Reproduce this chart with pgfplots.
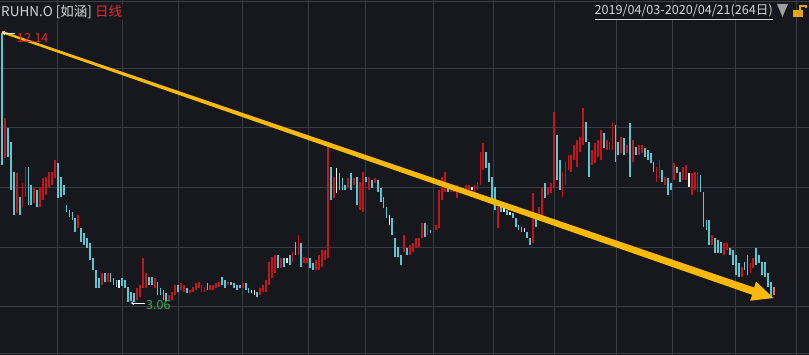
\documentclass[border=0pt]{standalone}
\usepackage{pgfplots}
\pgfplotsset{compat=1.18}
\usepackage{pgfplotstable}
\usepackage{fontspec}
\setmainfont{Noto Sans CJK SC}
\usetikzlibrary{arrows.meta}
\definecolor{bgc}{HTML}{16181D}
\definecolor{gridc}{HTML}{3A3D44}
\definecolor{upc}{HTML}{C3161C}
\definecolor{dnc}{HTML}{5EC6D0}
\definecolor{djc}{HTML}{F2F2F2}
\definecolor{lastc}{HTML}{E0706A}
\definecolor{arrc}{HTML}{F8B90A}
\definecolor{txtc}{HTML}{D6D6D6}
\definecolor{redtxt}{HTML}{E8282A}
\definecolor{grntxt}{HTML}{2EB85C}
\definecolor{lockc}{HTML}{E8A317}

% up (red) candles: index, high, low
\pgfplotstableread{
i h l
1 9.27 7.92
5 7.41 6.06
7 7.08 6.27
8 7.62 6.60
11 6.91 6.40
13 6.94 6.27
14 7.25 6.50
15 7.28 6.67
16 7.45 6.94
17 7.45 7.01
18 7.85 7.25
26 6.00 5.56
34 4.04 3.63
36 4.04 3.73
46 3.53 3.13
47 3.63 3.23
48 4.54 3.53
49 4.04 3.53
52 3.87 3.53
57 3.29 3.08
58 3.40 3.13
59 3.63 3.29
61 3.70 3.46
62 3.63 3.40
64 3.46 3.36
65 3.57 3.40
66 3.70 3.46
67 3.73 3.53
68 3.63 3.40
69 3.57 3.40
71 3.63 3.46
72 3.63 3.46
73 3.70 3.53
74 3.73 3.57
77 3.73 3.63
82 3.70 3.53
88 3.53 3.29
89 3.63 3.40
90 3.80 3.40
91 4.41 3.63
92 4.58 3.87
93 4.65 4.04
95 4.54 4.21
99 4.75 4.41
101 5.32 4.65
103 4.58 4.38
104 4.54 4.38
107 4.48 4.14
108 4.65 4.14
109 4.81 4.24
110 4.81 4.48
111 8.29 4.54
113 7.28 6.57
118 7.25 6.91
120 7.25 7.01
122 7.11 6.16
123 7.45 6.10
125 7.28 6.84
127 7.25 7.08
137 5.32 4.75
139 4.98 4.65
140 5.05 4.75
141 5.22 4.88
142 5.22 4.92
143 5.73 5.22
145 5.66 5.32
147 5.59 5.42
148 5.66 5.49
149 6.84 5.56
150 7.28 6.50
151 7.45 6.77
153 6.94 6.77
154 7.01 6.77
155 7.01 6.57
156 6.94 6.74
157 6.91 6.74
158 7.01 6.77
159 7.01 6.84
161 7.01 6.77
162 7.11 6.84
163 8.12 7.01
164 8.43 7.52
169 6.27 5.56
181 6.74 5.05
183 6.27 5.93
184 6.94 5.93
186 6.94 6.67
187 7.08 6.74
188 9.47 6.91
191 7.45 6.60
192 7.78 7.01
193 8.02 7.52
194 8.02 7.45
195 8.36 7.85
196 8.53 7.62
197 8.63 8.12
198 9.61 8.36
201 8.19 7.68
202 8.43 7.75
203 8.53 7.95
204 8.87 7.85
206 8.53 8.19
207 8.46 8.19
208 9.14 8.19
211 8.63 8.09
213 8.36 8.09
215 8.53 7.78
217 8.36 8.02
218 8.36 8.09
223 7.62 7.11
224 7.85 7.25
226 7.28 7.01
229 7.75 7.18
232 7.62 7.18
233 7.68 7.18
235 7.41 6.67
236 7.45 6.84
237 7.45 6.77
242 5.32 4.98
246 5.05 4.65
247 5.05 4.81
252 4.24 3.90
255 4.38 4.04
256 4.54 4.21
}\upT

% down (cyan) candles
\pgfplotstableread{
i h l
0 12.14 7.68
2 8.93 7.95
3 8.46 6.84
4 7.45 6.00
6 6.60 6.00
9 7.62 6.33
10 7.01 6.33
12 6.84 6.27
19 7.75 6.57
20 7.28 6.60
21 7.01 6.67
22 6.33 6.10
23 6.16 5.93
24 6.10 5.83
25 5.89 5.42
27 5.56 5.08
28 5.39 4.98
29 5.22 4.88
30 5.05 4.48
31 4.54 4.14
32 4.14 3.53
33 3.87 3.53
35 4.04 3.73
37 4.04 3.73
38 3.87 3.63
39 3.80 3.56
41 3.87 3.60
42 3.80 3.53
43 3.57 3.06
44 3.40 3.08
45 3.36 3.06
50 3.90 3.63
51 3.90 3.63
53 3.73 3.29
54 3.53 3.29
55 3.46 3.13
56 3.36 3.08
60 3.63 3.40
63 3.53 3.36
70 3.70 3.46
75 3.90 3.63
76 3.80 3.53
78 3.73 3.63
79 3.70 3.53
80 3.63 3.46
81 3.63 3.53
83 3.70 3.46
84 3.53 3.36
87 3.40 3.23
94 4.65 4.21
96 4.54 4.24
98 4.65 4.31
100 5.08 4.65
102 5.05 4.24
105 4.54 4.21
106 4.38 4.14
112 7.62 6.50
115 7.41 6.84
116 7.25 6.84
117 7.01 6.84
119 7.41 6.84
121 7.28 6.33
124 7.28 7.11
126 7.18 6.91
128 7.18 6.77
129 6.91 6.43
130 6.60 6.23
131 6.27 5.89
133 5.89 5.32
134 5.22 4.58
135 4.92 4.58
136 4.65 4.31
138 4.88 4.65
144 5.73 5.25
146 5.49 5.39
152 7.01 6.77
165 8.12 7.58
166 7.75 7.11
167 7.28 6.50
168 6.94 6.16
170 6.27 6.10
172 6.16 6.00
174 6.06 5.89
175 5.89 5.59
176 5.66 5.49
177 5.59 5.42
179 5.42 5.22
180 5.22 4.98
182 6.06 5.59
185 7.08 6.57
189 8.70 7.18
190 7.85 6.84
199 9.14 8.46
200 8.46 7.28
205 8.76 8.26
209 9.03 7.78
210 8.46 8.02
212 8.59 8.02
214 9.10 7.28
216 8.29 8.02
219 8.26 7.95
220 8.19 7.85
221 8.09 7.75
222 7.78 7.45
225 7.52 7.11
227 7.25 6.67
228 7.08 6.84
230 7.62 7.41
231 7.45 7.11
238 7.35 6.77
239 6.77 5.59
240 5.83 5.49
241 5.83 4.98
243 5.22 4.71
244 5.15 4.71
245 5.08 4.71
248 4.88 4.65
249 4.81 4.31
250 4.65 3.97
251 4.38 3.90
253 4.41 4.14
254 4.65 3.97
257 4.88 4.31
258 4.65 4.38
259 4.41 3.97
260 4.41 3.90
261 4.04 3.57
262 3.73 3.23
}\dnT

% doji (white) candles
\pgfplotstableread{
i h l
40 3.80 3.53
85 3.46 3.36
86 3.46 3.29
97 4.54 4.38
114 7.58 6.74
132 6.00 5.66
160 6.94 6.84
171 6.23 6.10
173 6.10 6.00
178 5.56 5.42
234 7.41 6.94
}\djT

% latest (current) candle
\pgfplotstableread{
i h l
263 3.57 3.29
}\lastT

\begin{document}
\begin{tikzpicture}
\begin{axis}[name=ax,
  width=809pt, height=355pt, scale only axis,
  xmin=-0.68, xmax=274.96, ymin=1.269, ymax=13.254,
  axis background/.style={fill=bgc},
  axis line style={draw=none},
  xtick={18.74,40.89,59.97,81.77,104.26,123.68,146.85,167.29,188.07,209.2,228.28,249.74,270.53},
  ytick={1.337,2.924,4.915,6.941,8.966,10.958,13.22},
  xticklabels={}, yticklabels={},
  major tick length=0pt,
  grid=major, major grid style={draw=gridc, line width=0.9pt},
  clip=false,
]
\addplot[draw=none, mark=none, forget plot,
  error bars/.cd, y dir=plus, y explicit, error mark=none,
  error bar style={draw=upc, line width=1.8pt}]
  table[x=i, y=l, y error expr=\thisrow{h}-\thisrow{l}] {\upT};
\addplot[draw=none, mark=none, forget plot,
  error bars/.cd, y dir=plus, y explicit, error mark=none,
  error bar style={draw=dnc, line width=1.8pt}]
  table[x=i, y=l, y error expr=\thisrow{h}-\thisrow{l}] {\dnT};
\addplot[draw=none, mark=none, forget plot,
  error bars/.cd, y dir=plus, y explicit, error mark=none,
  error bar style={draw=djc, line width=1.8pt}]
  table[x=i, y=l, y error expr=\thisrow{h}-\thisrow{l}] {\djT};
\addplot[draw=none, mark=none, forget plot,
  error bars/.cd, y dir=plus, y explicit, error mark=none,
  error bar style={draw=lastc, line width=2.2pt}]
  table[x=i, y=l, y error expr=\thisrow{h}-\thisrow{l}] {\lastT};

% tapered trend arrow
\addplot[fill=arrc, draw=none, forget plot] coordinates {
 (0.14,12.211) (256.3,3.545) (256.9,3.75) (262.8,3.194)
 (254.9,3.10) (255.6,3.30) (-0.14,12.137)} -- cycle;

% header
\node[anchor=west, inner sep=1pt, fill=bgc, text=txtc, font=\fontsize{13.5}{15}\selectfont]
  at (rel axis cs:0.0,0.966) {RUHN.O [如涵] \textcolor{redtxt}{日线}};
\node[anchor=east, inner sep=1pt, fill=bgc, text=txtc, font=\fontsize{12.6}{14}\selectfont]
  at (rel axis cs:0.9567,0.966) {\underline{2019/04/03-2020/04/21(264日)}};
\fill[color=gray!75] (rel axis cs:0.96044,0.98873) -- (rel axis cs:0.97404,0.98873) -- (rel axis cs:0.96724,0.95211) -- cycle;
\fill[lockc] (rel axis cs:0.98022,0.95211) rectangle (rel axis cs:0.99258,0.97183);
\draw[lockc, line width=1.2pt] (rel axis cs:0.9889,0.97183) -- (rel axis cs:0.9889,0.9831) -- (rel axis cs:0.9963,0.9831) -- (rel axis cs:0.9963,0.9775);

% max / min labels
\draw[white, line width=0.6pt, -{Straight Barb[length=2.5pt,width=4pt]}] (rel axis cs:0.01854,0.90704) -- (rel axis cs:0.00247,0.90704);
\node[anchor=west, inner sep=0pt, text=redtxt, font=\fontsize{12.5}{14}\selectfont] at (rel axis cs:0.02101,0.89296) {12.14};
\draw[white, line width=0.6pt, -{Straight Barb[length=2.5pt,width=4pt]}] (rel axis cs:0.17923,0.14648) -- (rel axis cs:0.16193,0.14648);
\node[anchor=west, inner sep=0pt, text=grntxt, font=\fontsize{12.5}{14}\selectfont] at (rel axis cs:0.18047,0.14085) {3.06};
\end{axis}
\pgfresetboundingbox
\path[use as bounding box] (ax.south west) rectangle (ax.north east);
\end{tikzpicture}
\end{document}
